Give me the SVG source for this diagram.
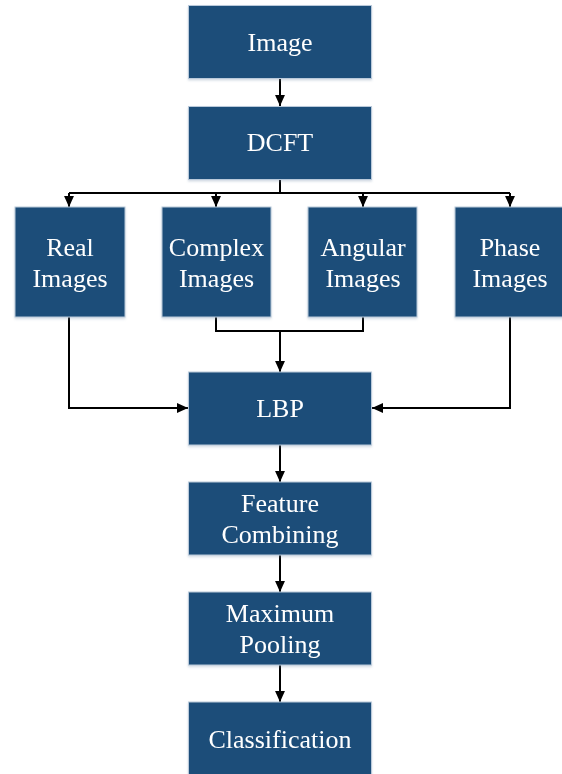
<svg xmlns="http://www.w3.org/2000/svg" width="562" height="774" viewBox="0 0 562 774">
  <style>
    .box { fill: #1f4e79; stroke: #b9c9da; stroke-width: 1; }
    .lbl { font-size: 26px; fill: #ffffff; text-anchor: middle; }
    .wire { fill: none; stroke: #000000; stroke-width: 2; }
  </style>
  <defs>
    <marker id="arrow" viewBox="0 0 10 10" refX="10" refY="5" markerWidth="11" markerHeight="11" markerUnits="userSpaceOnUse" orient="auto">
      <path d="M0,0.5 L10,5 L0,9.5 z" fill="#000000"/>
    </marker>
    <filter id="soft" x="-10%" y="-10%" width="120%" height="125%">
      <feDropShadow dx="0" dy="1.5" stdDeviation="1.2" flood-color="#7f96b0" flood-opacity="0.35"/>
    </filter>
  </defs>
  <rect width="562" height="774" fill="#ffffff"/>

  <g id="connectors">
    <path class="wire" d="M280,78 V106" marker-end="url(#arrow)"/>
    <path class="wire" d="M280,179 V193"/>
    <path class="wire" d="M69,193 H510"/>
    <path class="wire" d="M69,193 V207" marker-end="url(#arrow)"/>
    <path class="wire" d="M216,193 V207" marker-end="url(#arrow)"/>
    <path class="wire" d="M363,193 V207" marker-end="url(#arrow)"/>
    <path class="wire" d="M510,193 V207" marker-end="url(#arrow)"/>
    <path class="wire" d="M216,317 V331 H363 V317"/>
    <path class="wire" d="M280,331 V372" marker-end="url(#arrow)"/>
    <path class="wire" d="M69,317 V408 H188" marker-end="url(#arrow)"/>
    <path class="wire" d="M510,317 V408 H372" marker-end="url(#arrow)"/>
    <path class="wire" d="M280,445 V482" marker-end="url(#arrow)"/>
    <path class="wire" d="M280,555 V592" marker-end="url(#arrow)"/>
    <path class="wire" d="M280,665 V702" marker-end="url(#arrow)"/>
  </g>

  <g font-family="Liberation Serif, Times New Roman, serif">
  <g id="image" filter="url(#soft)">
    <rect class="box" x="188.5" y="5.5" width="183" height="73"/>
    <text class="lbl" x="280" y="51">Image</text>
  </g>
  <g id="dcft" filter="url(#soft)">
    <rect class="box" x="188.5" y="106.5" width="183" height="73"/>
    <text class="lbl" x="280" y="151">DCFT</text>
  </g>
  <g id="real-images" filter="url(#soft)">
    <rect class="box" x="15" y="207" width="110" height="110"/>
    <text class="lbl" x="70" y="256">Real</text>
    <text class="lbl" x="70" y="287">Images</text>
  </g>
  <g id="complex-images" filter="url(#soft)">
    <rect class="box" x="162" y="207" width="109" height="110"/>
    <text class="lbl" x="216.5" y="256">Complex</text>
    <text class="lbl" x="216.5" y="287">Images</text>
  </g>
  <g id="angular-images" filter="url(#soft)">
    <rect class="box" x="308" y="207" width="109" height="110"/>
    <text class="lbl" x="363" y="256">Angular</text>
    <text class="lbl" x="363" y="287">Images</text>
  </g>
  <g id="phase-images" filter="url(#soft)">
    <rect class="box" x="455" y="207" width="110" height="110"/>
    <text class="lbl" x="510" y="256">Phase</text>
    <text class="lbl" x="510" y="287">Images</text>
  </g>
  <g id="lbp" filter="url(#soft)">
    <rect class="box" x="188.5" y="372" width="183" height="73"/>
    <text class="lbl" x="280" y="417">LBP</text>
  </g>
  <g id="feature-combining" filter="url(#soft)">
    <rect class="box" x="188.5" y="482" width="183" height="73"/>
    <text class="lbl" x="280" y="512">Feature</text>
    <text class="lbl" x="280" y="543">Combining</text>
  </g>
  <g id="maximum-pooling" filter="url(#soft)">
    <rect class="box" x="188.5" y="592" width="183" height="73"/>
    <text class="lbl" x="280" y="622">Maximum</text>
    <text class="lbl" x="280" y="653">Pooling</text>
  </g>
  <g id="classification" filter="url(#soft)">
    <rect class="box" x="188.5" y="702" width="183" height="73"/>
    <text class="lbl" x="280" y="748">Classification</text>
  </g>
  </g>
</svg>
